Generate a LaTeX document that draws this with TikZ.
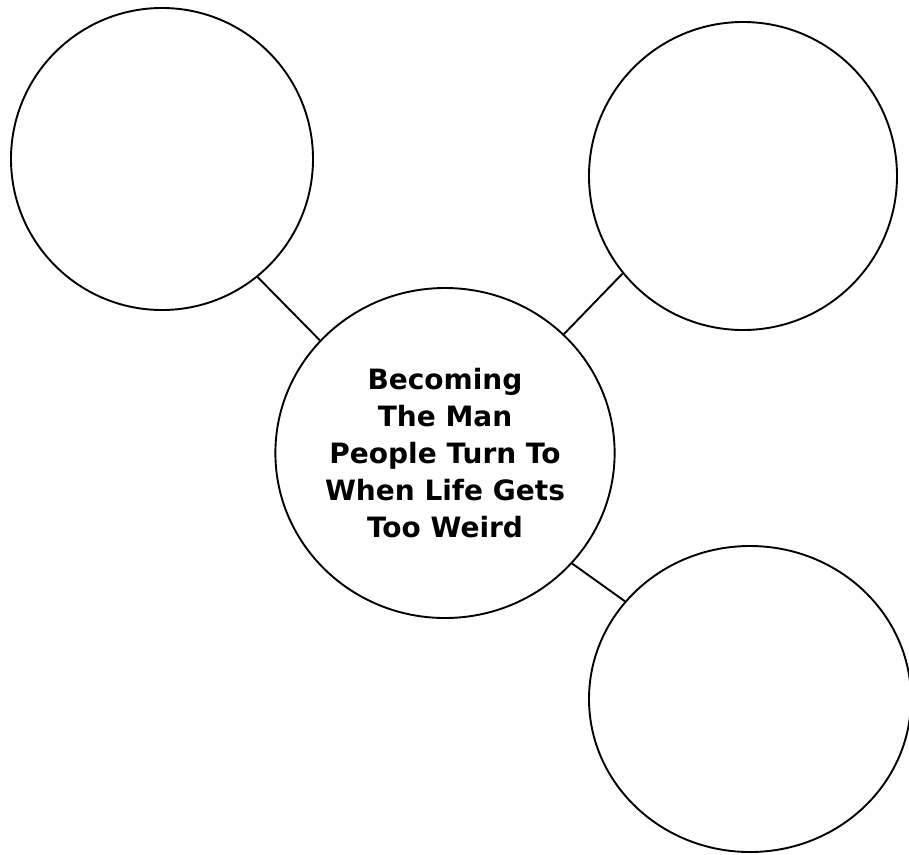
\documentclass[tikz,border=0pt]{standalone}
\usepackage{fontspec}
\usepackage{tikz}
\newfontfamily\bubblefont{DejaVu Sans}
\usetikzlibrary{shapes.geometric}
\tikzset{bubble/.style={draw, ellipse, line width=1.9pt, inner sep=0pt}}
\tikzset{link/.style={line width=1.9pt}}

\begin{document}
\begin{tikzpicture}[x=1pt, y=-1pt]
    \useasboundingbox (0, 0) rectangle (909, 854);

    \node [bubble, minimum width=302pt, minimum height=302pt] (topleft) at (162, 159) {};
    \node [bubble, minimum width=308pt, minimum height=308pt] (topright) at (743, 176) {};
    \node [bubble, minimum width=322pt, minimum height=306pt] (bottomright) at (750, 699) {};
    \node [bubble, minimum width=338pt, minimum height=330pt, align=center,
        font=\bubblefont\bfseries\fontsize{28}{37}\selectfont] (middle) at (445, 453)
        {Becoming\\The Man\\People Turn To\\When Life Gets\\Too Weird};

    \draw [link] (topleft.-51) -- (middle.138);
    \draw [link] (middle.45) -- (topright.-141);
    \draw [link] (middle.-41) -- (bottomright.142);

\end{tikzpicture}
\end{document}
